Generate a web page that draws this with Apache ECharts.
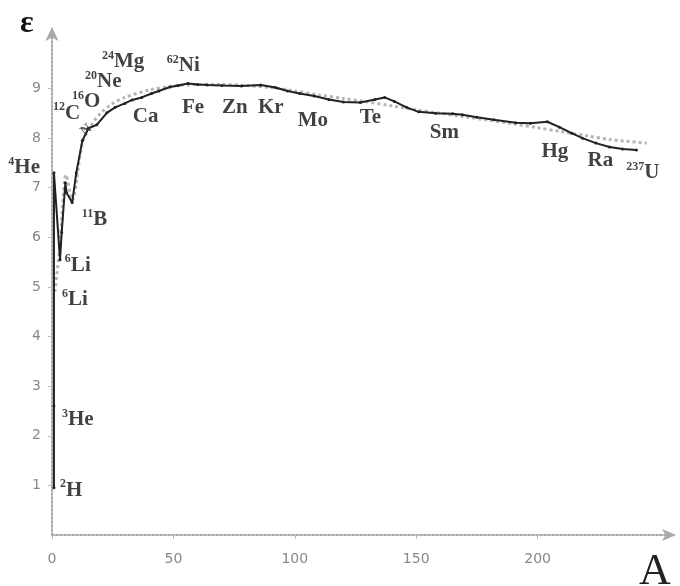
<!DOCTYPE html>
<html>
<head>
<meta charset="utf-8">
<script src="https://cdn.jsdelivr.net/npm/echarts@6/dist/echarts.min.js"></script>
<style>
  html, body { margin: 0; padding: 0; background: #fff; }
  #chart { width: 680px; height: 586px; }
</style>
</head>
<body>
<div id="chart"></div>
<script>
// binding energy per nucleon: [A, epsilon]
const measured = [
  [0.8, 0.95], [0.8, 2.6], [0.8, 7.3], [3.3, 5.55], [4.0, 6.1], [5.5, 7.1], [6.0, 6.9],
  [8.3, 6.7], [10, 7.3], [12.5, 7.95], [15, 8.2], [18.5, 8.27], [22.6, 8.51], [26, 8.62],
  [30, 8.7], [33, 8.77], [37, 8.82], [41, 8.9], [44, 8.95], [48.6, 9.03], [52, 9.06],
  [56, 9.1], [60, 9.08], [64, 9.07], [70, 9.06], [78, 9.05], [86, 9.07], [92, 9.02],
  [97, 8.95], [102, 8.9], [108, 8.85], [114, 8.78], [120, 8.73], [127, 8.72], [133, 8.78],
  [137, 8.82], [141, 8.74], [146, 8.62], [151, 8.53], [158, 8.5], [165, 8.49], [169, 8.47],
  [175, 8.42], [182, 8.37], [191, 8.31], [197, 8.3], [204, 8.33], [209, 8.22], [214, 8.1],
  [218.5, 8.0], [224, 7.9], [229.6, 7.82], [235, 7.78], [240.7, 7.76]
];
const smoothFit = [
  [1.2, 4.9], [3.3, 5.85], [5.8, 7.26], [8.3, 6.75], [12.5, 7.9], [16, 8.25], [20, 8.5],
  [25, 8.7], [30, 8.82], [40, 8.97], [50, 9.05], [60, 9.08], [70, 9.08], [80, 9.06],
  [90, 9.02], [100, 8.95], [110, 8.87], [120, 8.8], [130, 8.73], [140, 8.65], [150, 8.57],
  [160, 8.5], [170, 8.43], [180, 8.36], [190, 8.29], [200, 8.21], [210, 8.13], [220, 8.05],
  [230, 7.97], [245, 7.9]
];
// [A, epsilon, mass number, symbol]
const elementLabels = [
  [0.4, 8.5, '12', 'C'], [8.2, 8.73, '16', 'O'], [13.6, 9.13, '20', 'Ne'],
  [20.6, 9.54, '24', 'Mg'], [47.3, 9.46, '62', 'Ni'], [33.3, 8.43, '', 'Ca'],
  [53.5, 8.61, '', 'Fe'], [70, 8.61, '', 'Zn'], [84.8, 8.61, '', 'Kr'],
  [101.2, 8.35, '', 'Mo'], [126.7, 8.41, '', 'Te'], [155.6, 8.12, '', 'Sm'],
  [201.6, 7.72, '', 'Hg'], [220.6, 7.54, '', 'Ra'], [236.5, 7.3, '237', 'U'],
  [12.3, 6.35, '11', 'B'], [5.3, 5.44, '6', 'Li'], [4.1, 4.74, '6', 'Li'],
  [4.1, 2.32, '3', 'He'], [3.3, 0.9, '2', 'H']
];
const heliumLabel = [0, 7.4, '4', 'He'];
const xTicks = [0, 50, 100, 150, 200];
const yTicks = [1, 2, 3, 4, 5, 6, 7, 8, 9];

const serif = '"Liberation Serif", "DejaVu Serif", serif';
const rich = {
  sup: { fontFamily: serif, fontWeight: 'bold', fontSize: 12, color: '#111', verticalAlign: 'top', lineHeight: 24 },
  el: { fontFamily: serif, fontWeight: 'bold', fontSize: 21, color: '#111', lineHeight: 24 }
};
function labelText(mass, sym) {
  return (mass ? '{sup|' + mass + '}' : '') + '{el|' + sym + '}';
}

const chart = echarts.init(document.getElementById('chart'));
chart.setOption({
  animation: false,
  backgroundColor: '#fff',
  grid: { left: 52, right: 4, top: 27, bottom: 51 },
  xAxis: {
    type: 'value', min: 0, max: 257,
    axisLine: { show: true, symbol: ['none', 'arrow'], symbolSize: [9, 14],
      lineStyle: { color: '#aaa', width: 2, type: 'dotted' } },
    axisTick: { show: true, length: 4, inside: false, customValues: xTicks, lineStyle: { color: '#bbb' } },
    axisLabel: { customValues: xTicks, color: '#888', fontSize: 14, margin: 17, fontFamily: '"DejaVu Sans", sans-serif' },
    splitLine: { show: false }
  },
  yAxis: {
    type: 'value', min: 0, max: 10.24,
    axisLine: { show: true, symbol: ['none', 'arrow'], symbolSize: [10, 14],
      lineStyle: { color: '#aaa', width: 2, type: 'dotted' } },
    axisTick: { show: true, length: 4, customValues: yTicks, lineStyle: { color: '#bbb' } },
    axisLabel: { customValues: yTicks, color: '#888', fontSize: 14, margin: 11, fontFamily: '"DejaVu Sans", sans-serif' },
    splitLine: { show: false }
  },
  series: [
    {
      name: 'fit', type: 'line', data: smoothFit, showSymbol: false, smooth: 0.3,
      lineStyle: { color: '#b5b5b5', width: 3, type: 'dotted' }, z: 2
    },
    {
      name: 'measured', type: 'line', data: measured, symbol: 'circle', symbolSize: 3,
      itemStyle: { color: '#222' },
      lineStyle: { color: '#222', width: 2 }, z: 3
    },
    {
      name: 'labels', type: 'scatter', symbolSize: 0, silent: true, z: 5,
      data: elementLabels.map(d => ({
        value: [d[0], d[1]],
        label: { show: true, position: 'right', distance: 0, formatter: labelText(d[2], d[3]), rich: rich }
      })).concat([{
        value: [heliumLabel[0], heliumLabel[1]],
        label: { show: true, position: 'left', distance: 12, formatter: labelText(heliumLabel[2], heliumLabel[3]), rich: rich }
      }, {
        value: [12.5, 8.1],
        label: { show: true, position: 'right', distance: 0, rotate: 40, formatter: '{el|N}',
          rich: { el: { fontFamily: serif, fontWeight: 'bold', fontSize: 14, color: '#333' } } }
      }])
    }
  ],
  graphic: [
    { type: 'text', left: 20, top: 8,
      style: { text: 'ε', font: 'bold 32px ' + serif, fill: '#111' } },
    { type: 'text', left: 639, top: 550,
      style: { text: 'A', font: '44px ' + serif, fill: '#222' } }
  ]
});
</script>
</body>
</html>
